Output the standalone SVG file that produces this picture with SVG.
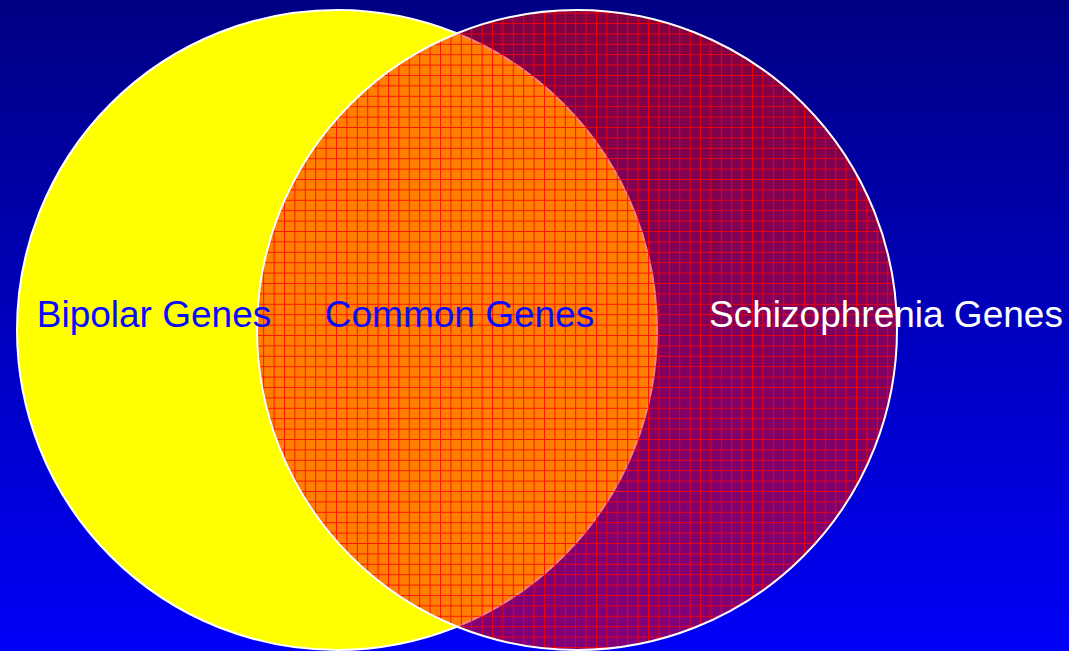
<svg xmlns="http://www.w3.org/2000/svg" width="1069" height="651" viewBox="0 0 1069 651">
  <defs>
    <linearGradient id="bg" x1="0" y1="0" x2="0" y2="1">
      <stop offset="0" stop-color="#000084"/>
      <stop offset="1" stop-color="#0000f8"/>
    </linearGradient>
    <pattern id="grid" patternUnits="userSpaceOnUse" x="3.2" y="2.2" width="10.4" height="10.4">
      <rect x="0" y="0" width="10.4" height="10.4" fill="#ff0000" fill-opacity="0.5"/>
      <path d="M0.5 0 V10.4 M0 0.5 H10.4" stroke="#ff0000" stroke-width="1" stroke-opacity="0.85" fill="none"/>
    </pattern>
    <style>
      .lbl { font-family: "Liberation Sans", Arial, sans-serif; font-size: 37px; text-anchor: middle; }
      .circ { stroke: #ffffff; stroke-width: 2; }
    </style>
  </defs>
  <rect x="0" y="0" width="1069" height="651" fill="url(#bg)"/>
  <g id="bipolar">
    <circle class="circ" cx="337" cy="330" r="320" fill="#ffff00"/>
  </g>
  <g id="schizophrenia">
    <circle class="circ" cx="577" cy="330" r="320" fill="url(#grid)"/>
  </g>
  <g id="connectors"/>
  <g id="labels">
    <text class="lbl" x="154" y="327" fill="#0a0aff">Bipolar Genes</text>
    <text class="lbl" x="459.5" y="327" fill="#0a0aff">Common Genes</text>
    <text class="lbl" x="886" y="327" fill="#ffffff">Schizophrenia Genes</text>
  </g>
</svg>
